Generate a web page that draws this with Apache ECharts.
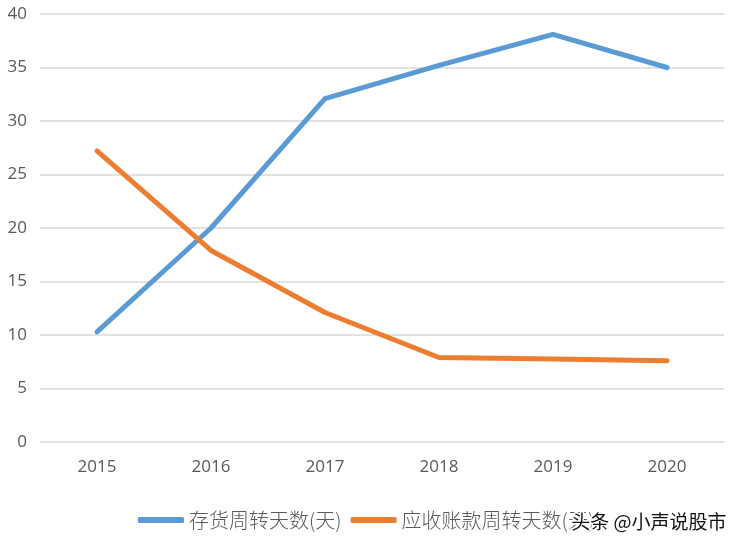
<!DOCTYPE html>
<html><head><meta charset="utf-8">
<script src="https://cdn.jsdelivr.net/npm/echarts@6/dist/echarts.min.js"></script>
<style>html,body{margin:0;padding:0;background:#fff}#c{width:744px;height:548px}</style>
</head><body><div id="c"></div>
<script>
const categories = ['2015','2016','2017','2018','2019','2020'];
const inventoryDays = [10.3, 20.0, 32.1, 35.2, 38.1, 35.0];
const receivableDays = [27.2, 17.9, 12.1, 7.9, 7.75, 7.6];
const seriesNames = ['存货周转天数(天)', '应收账款周转天数(天)'];
const watermark = '头条 @小声说股市';

const chart = echarts.init(document.getElementById('c'));
const cjk = '"Noto Sans CJK SC", sans-serif';
const num = '"Open Sans", sans-serif';
chart.setOption({
  animation: false,
  grid: {left: 40, right: 20, top: 14, bottom: 106},
  legend: {
    bottom: 13, left: 133,
    itemWidth: 46, itemHeight: 6, itemGap: 9,
    icon: 'roundRect',
    textStyle: {fontSize: 20, color: '#595959', fontFamily: cjk, fontWeight: 300},
    data: seriesNames
  },
  xAxis: {
    type: 'category', data: categories, boundaryGap: true,
    axisLine: {show: false}, axisTick: {show: false},
    axisLabel: {fontSize: 17, color: '#595959', margin: 17, fontFamily: num}
  },
  yAxis: {
    type: 'value', min: 0, max: 40, interval: 5,
    axisLine: {show: false}, axisTick: {show: false},
    axisLabel: {fontSize: 17, color: '#595959', margin: 13, fontFamily: num},
    splitLine: {lineStyle: {color: '#d9d9d9', width: 1.5}}
  },
  series: [
    {name: seriesNames[0], type: 'line', data: inventoryDays, symbol: 'none',
     lineStyle: {width: 5, color: '#5b9bd5', cap: 'round', join: 'round'}, itemStyle: {color: '#5b9bd5'}},
    {name: seriesNames[1], type: 'line', data: receivableDays, symbol: 'none',
     lineStyle: {width: 5, color: '#ed7d31', cap: 'round', join: 'round'}, itemStyle: {color: '#ed7d31'}}
  ],
  graphic: [{
    type: 'text', right: 16, bottom: 15, z: 100,
    style: {text: watermark, fontSize: 19, fill: '#111', stroke: '#fff', lineWidth: 3, fontFamily: cjk}
  }]
});
</script></body></html>
